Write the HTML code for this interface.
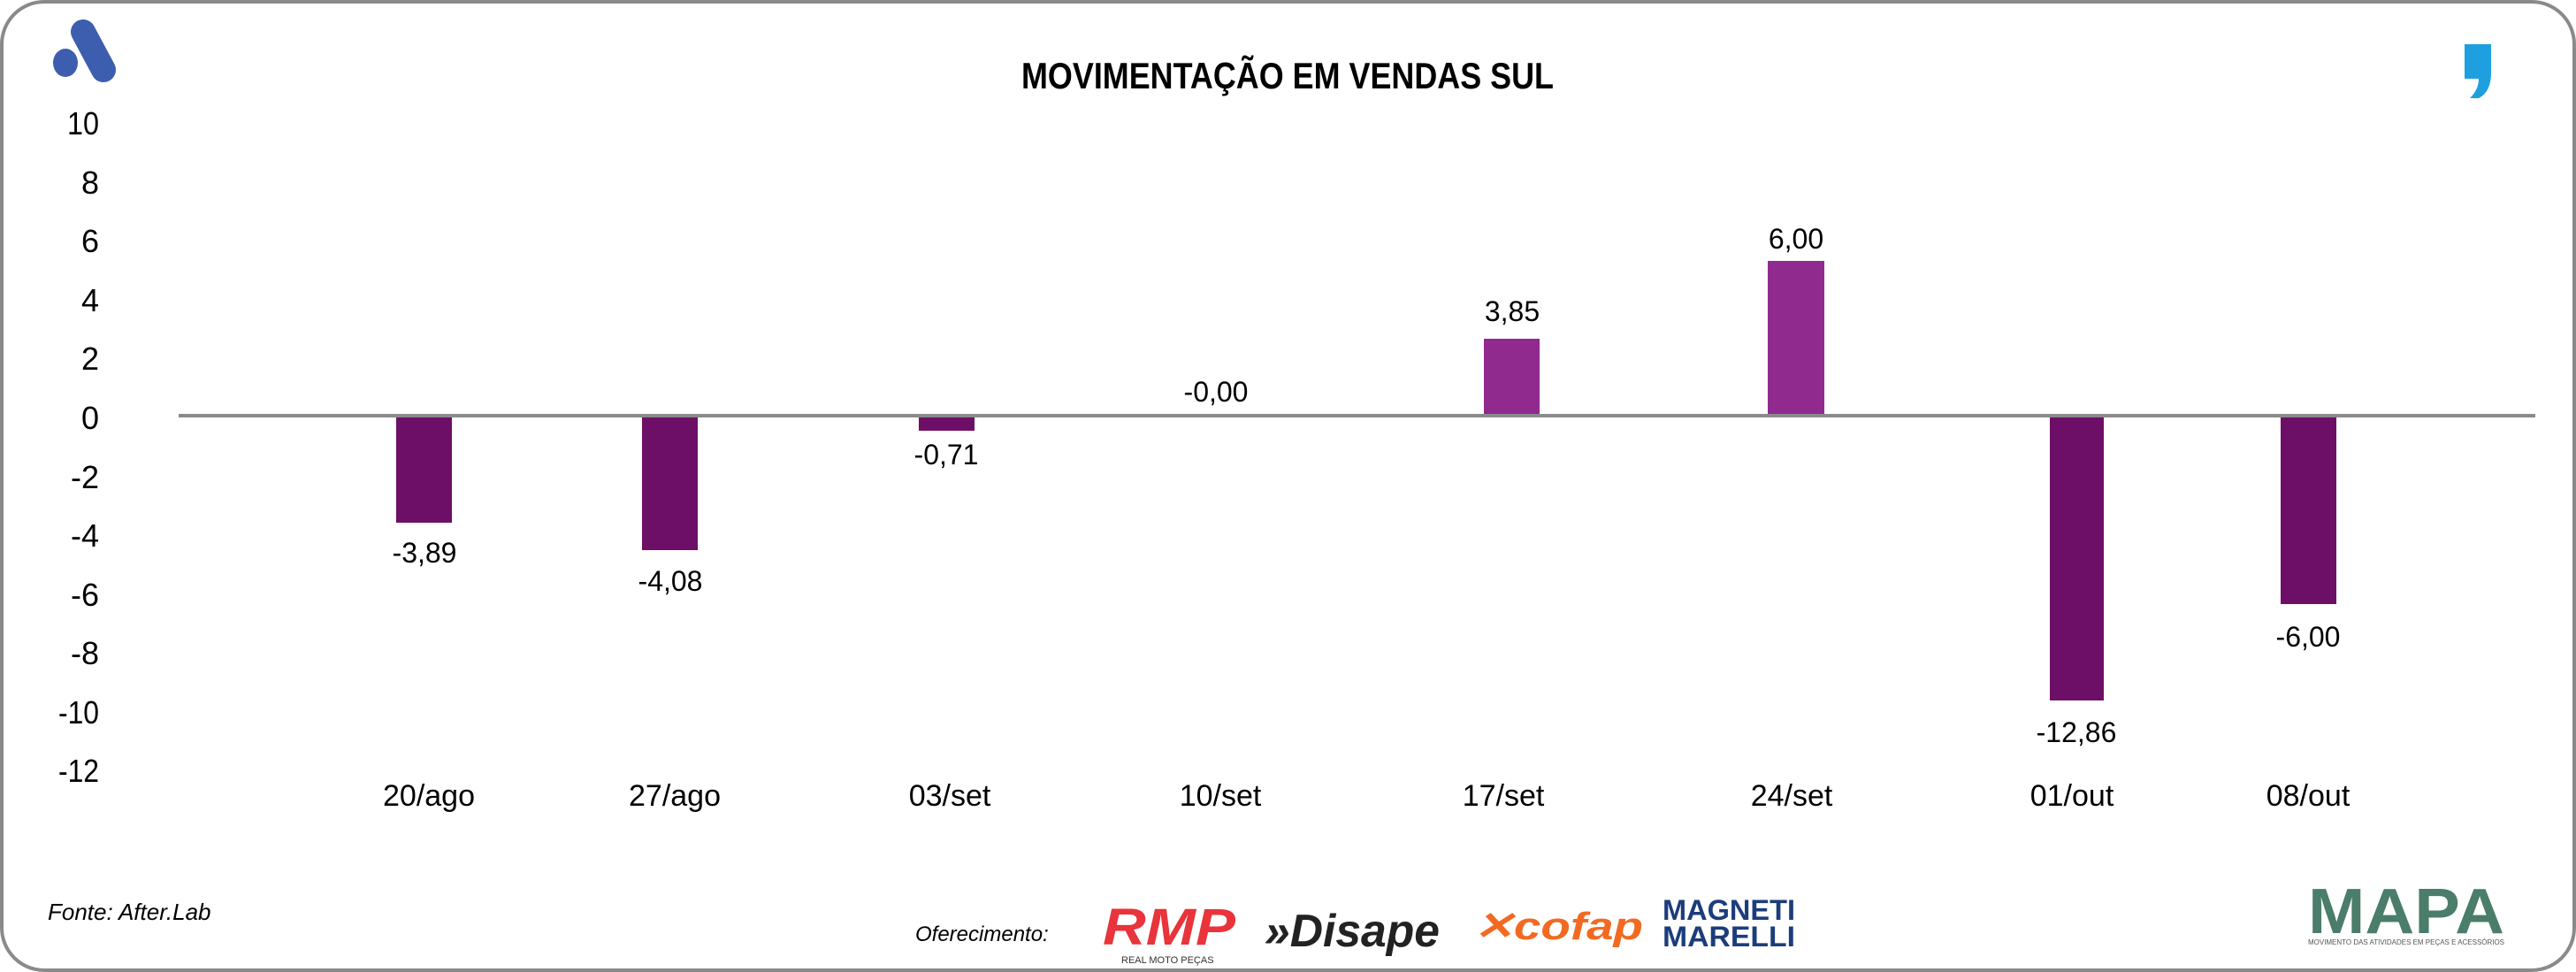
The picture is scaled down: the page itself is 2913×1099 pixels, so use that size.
<!DOCTYPE html>
<html><head><meta charset="utf-8"><style>
html,body{margin:0;padding:0;background:#fff;}
svg{display:block;font-family:"Liberation Sans",sans-serif;}
</style></head><body>
<svg width="2913" height="1099" viewBox="0 0 2913 1099" xmlns="http://www.w3.org/2000/svg">
<rect x="2" y="2" width="2909" height="1095" rx="48" ry="48" fill="#fff" stroke="#8a8a8c" stroke-width="4"/>
<!-- A logo -->
<ellipse cx="74" cy="71" rx="14" ry="16" fill="#3d5eae"/>
<line x1="94" y1="36" x2="117" y2="79" stroke="#3d5eae" stroke-width="28" stroke-linecap="round"/>
<!-- comma logo -->
<path d="M2787 50 h30 v32 q0 22 -14 29 h-10 q10 -10 10 -22 h-16 z" fill="#1ea0e0"/>
<text x="1456" y="100" text-anchor="middle" font-weight="bold" font-size="42" textLength="602" lengthAdjust="spacingAndGlyphs">MOVIMENTAÇÃO EM VENDAS SUL</text>
<!-- y ticks -->
<g font-size="36" text-anchor="end" fill="#000">
<text x="112" y="152" textLength="36" lengthAdjust="spacingAndGlyphs">10</text>
<text x="112" y="219">8</text>
<text x="112" y="285">6</text>
<text x="112" y="352">4</text>
<text x="112" y="418">2</text>
<text x="112" y="485">0</text>
<text x="112" y="552">-2</text>
<text x="112" y="618">-4</text>
<text x="112" y="685">-6</text>
<text x="112" y="751">-8</text>
<text x="112" y="818" textLength="46" lengthAdjust="spacingAndGlyphs">-10</text>
<text x="112" y="884" textLength="46" lengthAdjust="spacingAndGlyphs">-12</text>
</g>
<!-- bars -->
<rect x="448" y="470" width="63" height="121" fill="#6d0f66"/>
<rect x="726" y="470" width="63" height="152" fill="#6d0f66"/>
<rect x="1039" y="470" width="63" height="17" fill="#6d0f66"/>
<rect x="1678" y="383" width="63" height="87" fill="#912a8f"/>
<rect x="1999" y="295" width="64" height="175" fill="#912a8f"/>
<rect x="2318" y="470" width="61" height="322" fill="#6d0f66"/>
<rect x="2579" y="470" width="63" height="213" fill="#6d0f66"/>
<line x1="202" y1="470" x2="2867" y2="470" stroke="#8a8a8c" stroke-width="4"/>
<!-- value labels -->
<g font-size="32" text-anchor="middle" fill="#000">
<text x="480" y="636">-3,89</text>
<text x="758" y="668">-4,08</text>
<text x="1070" y="525">-0,71</text>
<text x="1375" y="454">-0,00</text>
<text x="1710" y="363">3,85</text>
<text x="2031" y="281">6,00</text>
<text x="2348" y="839">-12,86</text>
<text x="2610" y="731">-6,00</text>
</g>
<!-- x labels -->
<g font-size="34" text-anchor="middle" fill="#000">
<text x="485" y="911">20/ago</text>
<text x="763" y="911">27/ago</text>
<text x="1074" y="911">03/set</text>
<text x="1380" y="911">10/set</text>
<text x="1700" y="911">17/set</text>
<text x="2026" y="911">24/set</text>
<text x="2343" y="911">01/out</text>
<text x="2610" y="911">08/out</text>
</g>
<text x="54" y="1040" font-size="26" font-style="italic">Fonte: After.Lab</text>
<text x="1035" y="1064" font-size="24" font-style="italic">Oferecimento:</text>
<!-- sponsor logos -->
<text x="1247" y="1068" font-size="58" font-weight="bold" font-style="italic" fill="#e8343a" textLength="150" lengthAdjust="spacingAndGlyphs">RMP</text>
<text x="1268" y="1089" font-size="11" fill="#333">REAL MOTO PEÇAS</text>
<text x="1430" y="1070" font-size="52" font-weight="bold" font-style="italic" fill="#222" textLength="198" lengthAdjust="spacingAndGlyphs">»Disape</text>
<text x="1666" y="1062" font-size="44" font-weight="bold" font-style="italic" fill="#f26a21" textLength="192" lengthAdjust="spacingAndGlyphs">✕cofap</text>
<text x="1880" y="1040" font-size="32" font-weight="bold" fill="#1c3d7c" textLength="150" lengthAdjust="spacingAndGlyphs">MAGNETI</text>
<text x="1880" y="1070" font-size="32" font-weight="bold" fill="#1c3d7c" textLength="150" lengthAdjust="spacingAndGlyphs">MARELLI</text>
<text x="2610" y="1055" font-size="72" font-weight="bold" fill="#4a7d6a" textLength="222" lengthAdjust="spacingAndGlyphs">MAPA</text>
<text x="2610" y="1068" font-size="8" fill="#555" textLength="222" lengthAdjust="spacingAndGlyphs">MOVIMENTO DAS ATIVIDADES EM PEÇAS E ACESSÓRIOS</text>
</svg>
</body></html>
